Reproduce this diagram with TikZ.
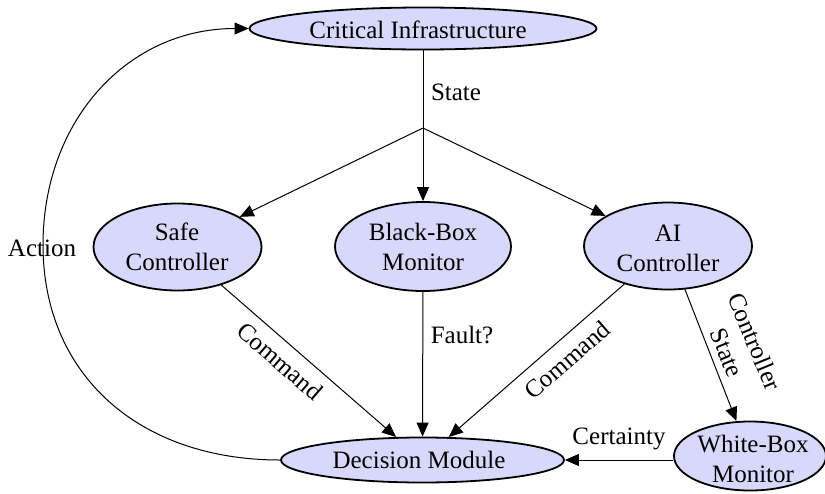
\documentclass[tikz,border=0pt]{standalone}
\usepackage{fontspec}
\setmainfont{Liberation Serif}
\usetikzlibrary{shapes.geometric,arrows.meta}
\definecolor{nodefill}{RGB}{216,216,252}
\begin{document}
\begin{tikzpicture}[x=1pt,y=-1pt,
  every node/.style={font=\fontsize{25}{30}\selectfont, inner sep=0pt},
  blob/.style={ellipse, draw, line width=1.8pt, fill=nodefill},
  txt/.style={align=center},
  edge/.style={line width=1pt, -{Triangle[length=14pt,width=12pt]}},
  plain/.style={line width=1pt}]
\useasboundingbox (0,0) rectangle (825,493);

% states
\node[blob, minimum width=347pt, minimum height=42pt] (ci) at (423,28.5) {};
\node[blob, minimum width=168pt, minimum height=87pt] (sc) at (177.5,247) {};
\node[blob, minimum width=176pt, minimum height=89pt] (bb) at (423,246.5) {};
\node[blob, minimum width=168pt, minimum height=87pt] (ai) at (668,246) {};
\node[blob, minimum width=152pt, minimum height=69pt] (wb) at (750,456) {};
\node[blob, minimum width=283pt, minimum height=45pt] (dm) at (422.5,460) {};
\coordinate (j) at (423,128);

% node texts
\node[txt] (ci-t) at (418,30) {Critical Infrastructure};
\node[txt] (sc-t) at (177,247) {Safe\\Controller};
\node[txt] (bb-t) at (423,247) {Black-Box\\Monitor};
\node[txt] (ai-t) at (668,248.5) {AI\\Controller};
\node[txt] (wb-t) at (753,459) {White-Box\\Monitor};
\node[txt] (dm-t) at (419,460) {Decision Module};

% connectors
\draw[plain] (ci) -- (j);
\draw[edge] (j) -- (sc);
\draw[edge] (j) -- (bb);
\draw[edge] (j) -- (ai);
\draw[edge] (sc) -- (dm);
\draw[edge] (bb) -- (dm);
\draw[edge] (ai) -- (dm);
\draw[edge] (ai) -- (wb);
\draw[edge] (wb.west |- dm.east) -- (dm.east);
\coordinate (bend) at (43,245);
\draw[edge] (dm.west) .. controls (138,460) and (43,374) .. (bend)
  .. controls (43,120) and (128,28.5) .. (ci.west);

% connector labels
\node (l-state) at (456,92) {State};
\node (l-action) at (42,248) {Action};
\node (l-fault) at (462,335) {Fault?};
\node (l-cert) at (619,439) {Certainty};
\node[rotate=-41] (l-cmd1) at (280,361) {Command};
\node[rotate=41] (l-cmd2) at (567,360) {Command};
\node[txt, rotate=-67.7] (l-cs) at (741,347) {Controller\\State};
\end{tikzpicture}
\end{document}
